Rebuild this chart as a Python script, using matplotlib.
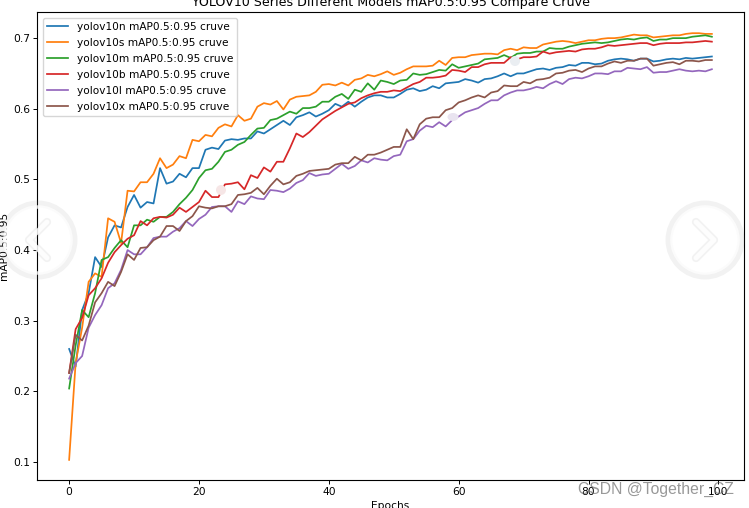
import matplotlib
matplotlib.use("Agg")
import matplotlib.pyplot as plt
from matplotlib.patches import Circle, Ellipse

epochs = list(range(100))

yolov10n = [0.260, 0.235, 0.315, 0.339, 0.390, 0.376, 0.418, 0.435, 0.432, 0.461,
            0.478, 0.460, 0.468, 0.466, 0.516, 0.494, 0.497, 0.508, 0.503, 0.516,
            0.516, 0.542, 0.545, 0.543, 0.555, 0.557, 0.556, 0.558, 0.558, 0.568,
            0.565, 0.571, 0.577, 0.583, 0.577, 0.588, 0.591, 0.595, 0.589, 0.593,
            0.598, 0.607, 0.603, 0.610, 0.603, 0.610, 0.616, 0.619, 0.619, 0.616,
            0.616, 0.621, 0.627, 0.629, 0.625, 0.627, 0.632, 0.629, 0.636, 0.637,
            0.638, 0.642, 0.640, 0.637, 0.642, 0.643, 0.646, 0.650, 0.646, 0.650,
            0.650, 0.653, 0.656, 0.657, 0.655, 0.658, 0.659, 0.662, 0.661, 0.665,
            0.665, 0.663, 0.664, 0.668, 0.670, 0.671, 0.670, 0.668, 0.671, 0.671,
            0.667, 0.668, 0.670, 0.671, 0.670, 0.672, 0.671, 0.672, 0.673, 0.674]
yolov10s = [0.103, 0.240, 0.290, 0.355, 0.367, 0.362, 0.445, 0.440, 0.410, 0.484,
            0.483, 0.496, 0.496, 0.508, 0.530, 0.516, 0.521, 0.533, 0.530, 0.556,
            0.554, 0.563, 0.561, 0.573, 0.578, 0.575, 0.591, 0.583, 0.586, 0.603,
            0.608, 0.606, 0.611, 0.599, 0.613, 0.617, 0.618, 0.619, 0.624, 0.634,
            0.635, 0.633, 0.637, 0.633, 0.641, 0.643, 0.648, 0.646, 0.649, 0.653,
            0.648, 0.651, 0.656, 0.660, 0.660, 0.660, 0.661, 0.668, 0.662, 0.672,
            0.673, 0.673, 0.676, 0.677, 0.678, 0.678, 0.677, 0.683, 0.685, 0.683,
            0.687, 0.686, 0.686, 0.691, 0.693, 0.695, 0.696, 0.695, 0.693, 0.695,
            0.697, 0.697, 0.699, 0.700, 0.700, 0.701, 0.703, 0.705, 0.704, 0.704,
            0.701, 0.702, 0.703, 0.704, 0.704, 0.706, 0.707, 0.707, 0.706, 0.706]
yolov10m = [0.204, 0.265, 0.315, 0.305, 0.339, 0.386, 0.390, 0.403, 0.414, 0.404,
            0.435, 0.435, 0.443, 0.440, 0.447, 0.447, 0.454, 0.465, 0.474, 0.485,
            0.502, 0.513, 0.515, 0.525, 0.539, 0.542, 0.549, 0.553, 0.563, 0.572,
            0.573, 0.584, 0.586, 0.591, 0.596, 0.593, 0.601, 0.601, 0.603, 0.610,
            0.610, 0.617, 0.621, 0.614, 0.627, 0.624, 0.636, 0.627, 0.640, 0.638,
            0.635, 0.640, 0.641, 0.650, 0.648, 0.649, 0.652, 0.655, 0.654, 0.663,
            0.658, 0.660, 0.662, 0.664, 0.670, 0.671, 0.672, 0.676, 0.672, 0.678,
            0.679, 0.679, 0.681, 0.681, 0.686, 0.685, 0.685, 0.688, 0.690, 0.692,
            0.693, 0.694, 0.693, 0.694, 0.696, 0.698, 0.699, 0.698, 0.700, 0.701,
            0.696, 0.698, 0.698, 0.700, 0.700, 0.700, 0.702, 0.703, 0.704, 0.702]
yolov10b = [0.226, 0.288, 0.304, 0.336, 0.346, 0.360, 0.382, 0.397, 0.407, 0.416,
            0.421, 0.441, 0.435, 0.445, 0.447, 0.446, 0.450, 0.460, 0.454, 0.461,
            0.468, 0.484, 0.475, 0.475, 0.493, 0.494, 0.496, 0.486, 0.506, 0.502,
            0.517, 0.511, 0.525, 0.525, 0.544, 0.565, 0.560, 0.567, 0.576, 0.585,
            0.591, 0.597, 0.602, 0.607, 0.609, 0.615, 0.619, 0.622, 0.624, 0.624,
            0.626, 0.625, 0.630, 0.635, 0.638, 0.644, 0.644, 0.645, 0.647, 0.655,
            0.654, 0.652, 0.659, 0.659, 0.663, 0.665, 0.665, 0.665, 0.673, 0.670,
            0.673, 0.673, 0.674, 0.681, 0.678, 0.680, 0.681, 0.682, 0.681, 0.684,
            0.685, 0.685, 0.687, 0.690, 0.689, 0.690, 0.691, 0.692, 0.693, 0.693,
            0.690, 0.692, 0.693, 0.693, 0.693, 0.694, 0.694, 0.695, 0.696, 0.695]
yolov10l = [0.218, 0.240, 0.250, 0.290, 0.308, 0.322, 0.346, 0.353, 0.372, 0.400,
            0.394, 0.394, 0.404, 0.417, 0.419, 0.419, 0.426, 0.431, 0.441, 0.434,
            0.444, 0.450, 0.461, 0.462, 0.462, 0.454, 0.469, 0.465, 0.476, 0.473,
            0.472, 0.485, 0.484, 0.482, 0.487, 0.495, 0.499, 0.509, 0.505, 0.507,
            0.508, 0.515, 0.522, 0.515, 0.519, 0.527, 0.524, 0.530, 0.528, 0.527,
            0.533, 0.535, 0.554, 0.557, 0.569, 0.576, 0.574, 0.581, 0.575, 0.584,
            0.589, 0.595, 0.598, 0.601, 0.607, 0.612, 0.612, 0.619, 0.623, 0.626,
            0.626, 0.628, 0.631, 0.629, 0.635, 0.639, 0.635, 0.642, 0.644, 0.643,
            0.646, 0.650, 0.650, 0.649, 0.653, 0.653, 0.658, 0.657, 0.656, 0.659,
            0.651, 0.652, 0.652, 0.654, 0.656, 0.654, 0.653, 0.654, 0.653, 0.656]
yolov10x = [0.226, 0.280, 0.272, 0.293, 0.326, 0.339, 0.355, 0.349, 0.369, 0.394,
            0.386, 0.403, 0.404, 0.414, 0.419, 0.434, 0.434, 0.427, 0.441, 0.448,
            0.462, 0.460, 0.459, 0.462, 0.462, 0.465, 0.478, 0.479, 0.481, 0.488,
            0.479, 0.491, 0.501, 0.493, 0.496, 0.505, 0.508, 0.512, 0.513, 0.514,
            0.515, 0.521, 0.523, 0.523, 0.532, 0.527, 0.535, 0.535, 0.538, 0.542,
            0.546, 0.546, 0.571, 0.557, 0.578, 0.586, 0.588, 0.588, 0.598, 0.601,
            0.609, 0.612, 0.616, 0.619, 0.616, 0.623, 0.625, 0.633, 0.632, 0.632,
            0.638, 0.636, 0.641, 0.642, 0.644, 0.650, 0.651, 0.654, 0.655, 0.652,
            0.657, 0.660, 0.660, 0.664, 0.667, 0.665, 0.668, 0.668, 0.671, 0.671,
            0.661, 0.663, 0.665, 0.666, 0.663, 0.668, 0.668, 0.667, 0.669, 0.669]

model_names = ["yolov10n", "yolov10s", "yolov10m", "yolov10b", "yolov10l", "yolov10x"]
model_values = [yolov10n, yolov10s, yolov10m, yolov10b, yolov10l, yolov10x]

W, H = 749, 508
plt.rcParams['font.size'] = 7.7

fig = plt.figure(figsize=(W / 100, H / 100), dpi=100)
# axes box measured in pixels from the reference
ax = fig.add_axes([37 / W, 1 - 480 / H, (744 - 37) / W, (480 - 12) / H])

for name, values in zip(model_names, model_values):
    ax.plot(epochs, values, linewidth=1.25, label=f"{name} mAP0.5:0.95 cruve")

ax.set_xlim(-4.95, 103.95)
ax.set_ylim(0.0745, 0.737)
ax.set_xticks(range(0, 101, 20))
ax.set_yticks([0.1, 0.2, 0.3, 0.4, 0.5, 0.6, 0.7])
ax.tick_params(length=2.7, width=0.7, pad=2.5)
for spine in ax.spines.values():
    spine.set_linewidth(0.8)

ax.set_title("YOLOV10 Series Different Models mAP0.5:0.95 Compare Cruve", fontsize=9.1, pad=4)
ax.set_xlabel("Epochs", labelpad=2.5)
ax.set_ylabel("mAP0.5:0.95", labelpad=2.5)
ax.legend(loc="upper left", fontsize=7.6, borderaxespad=0.55, labelspacing=0.56)

# page overlay from the screenshot: carousel arrows, image glitches, watermark
over = fig.add_axes([0, 0, 1, 1], facecolor="none")
over.set_xlim(0, W)
over.set_ylim(H, 0)
over.axis("off")
for cx, side in [(38, -1), (705, 1)]:
    over.add_patch(Circle((cx, 240), 36, fill=False, ec="#808080", alpha=0.1, lw=5))
    over.add_patch(Circle((cx, 240), 33, fill=False, ec="white", alpha=0.75, lw=2.5))
    over.plot([cx - side * 9, cx + side * 9, cx - side * 9], [222, 240, 258],
              color="#808080", alpha=0.1, lw=6, solid_capstyle="round")
    over.plot([cx - side * 9, cx + side * 9, cx - side * 9], [222, 240, 258],
              color="white", alpha=0.85, lw=3.5, solid_capstyle="round")
over.add_patch(Circle((221, 190), 5, fc="#f6e6e6", ec="none"))
over.add_patch(Ellipse((453, 117), 11, 8, fc="#e9e4f0", ec="none"))
over.add_patch(Circle((515, 61), 5, fc="#eaeef2", ec="none"))
over.text(578, 489, "CSDN @Together_CZ", family="Liberation Sans", fontsize=11.3,
          color="#555555", alpha=0.6, va="center", ha="left")

fig.savefig("out.png", dpi=100)
